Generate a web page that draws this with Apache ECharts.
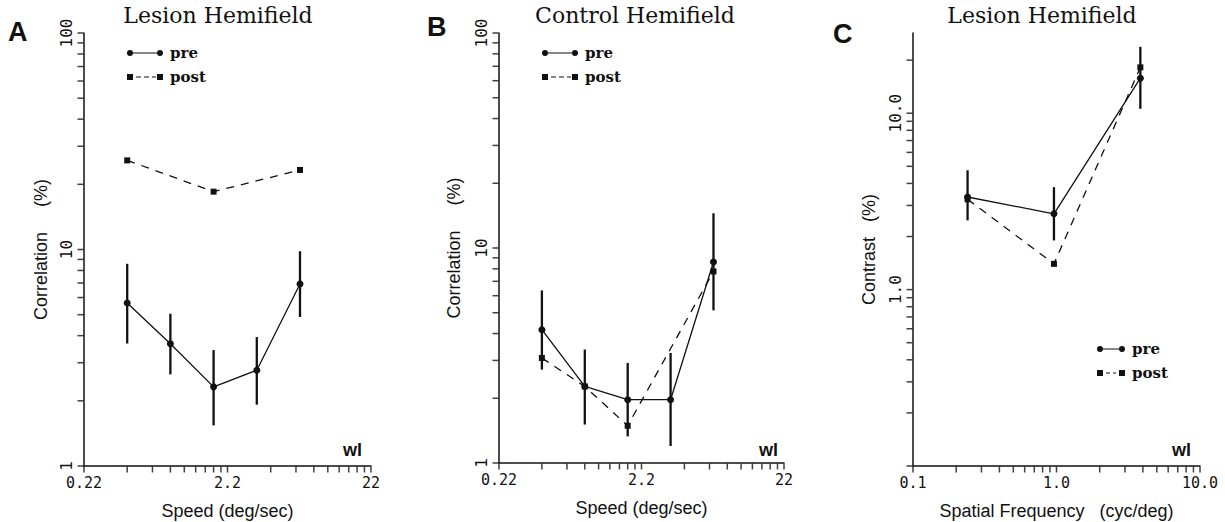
<!DOCTYPE html>
<html><head><meta charset="utf-8">
<script src="https://cdn.jsdelivr.net/npm/echarts@6/dist/echarts.min.js"></script>
<style>html,body{margin:0;padding:0;background:#fff}#c{width:1225px;height:522px}</style>
</head><body><div id="c"></div>
<script>
// ---------- data ----------
// Panels A & B: stimulus speed (deg/sec)
const speeds = [0.44, 0.88, 1.76, 3.52, 7.04];
// A: Lesion hemifield, correlation threshold (%)
const aPre   = [5.66, 3.67, 2.32, 2.77, 6.93];
const aPreLo = [3.68, 2.65, 1.54, 1.92, 4.88];
const aPreHi = [8.59, 5.05, 3.43, 3.94, 9.82];
const aPostX = [0.44, 1.76, 7.04];
const aPost  = [25.8, 18.5, 23.3];
// B: Control hemifield
const bPre   = [4.17, 2.27, 1.97, 1.97, 8.61];
const bErrLo = [2.72, 1.51, 1.33, 1.20, 5.13];
const bErrHi = [6.35, 3.37, 2.92, 3.25, 14.5];
const bPostX = [0.44, 0.88, 1.76, 7.04];
const bPost  = [3.08, 2.27, 1.49, 7.78];
// C: Lesion hemifield, contrast threshold (%) vs spatial frequency (cyc/deg)
const freqs  = [0.24, 0.96, 3.84];
const cPre   = [3.35, 2.69, 15.8];
const cPost  = [3.25, 1.40, 18.2];
const cErrLo = [2.47, 1.90, 10.6];
const cErrHi = [4.75, 3.81, 23.8];

// tick labels
const speedTickLabels = [0.22, 2.2, 22];
const freqTickLabels = [0.1, 1.0, 10.0];
const corrTickLabels = [1, 10, 100];
const contrastTickLabels = [1, 10];

// tick mark positions (log minor ticks)
function logTicks(starts, last) {
  const out = [];
  starts.forEach(s => { for (let k = 1; k <= 9; k++) out.push(+(s * k).toPrecision(6)); });
  if (last != null) out.push(last);
  return out;
}
const speedTicks = logTicks([0.22, 2.2], 22);
const corrTicks = logTicks([1, 10], 100);
const freqTicks = logTicks([0.1, 1], 10);
const contrastTicks = logTicks([0.1, 1], 10).concat([20]);

// ---------- styles ----------
const INK = '#111';
const tickFont = 'DejaVu Sans Mono';
const nameFont = 'Liberation Sans';
function xAxisCfg(grid, min, max, labels, fmt, name) {
  return {
    type: 'log', logBase: 10, gridIndex: grid, min: min, max: max,
    axisLine: { show: true, lineStyle: { color: INK, width: 1.5 } },
    axisTick: { show: false },
    axisLabel: { customValues: labels, formatter: fmt, fontFamily: tickFont, fontSize: 15, color: INK, margin: 9 },
    splitLine: { show: false },
    name: name, nameLocation: 'middle', nameGap: 36,
    nameTextStyle: { fontFamily: nameFont, fontSize: 18, color: INK }
  };
}
function yAxisCfg(grid, min, max, labels, fmt, name, gap) {
  return {
    type: 'log', logBase: 10, gridIndex: grid, min: min, max: max,
    axisLine: { show: true, lineStyle: { color: INK, width: 1.5 } },
    axisTick: { show: false },
    axisLabel: { customValues: labels, formatter: fmt, rotate: 90, fontFamily: tickFont, fontSize: 16, color: INK, margin: 10 },
    splitLine: { show: false },
    name: name, nameLocation: 'middle', nameGap: gap, nameRotate: 90,
    nameTextStyle: { fontFamily: nameFont, fontSize: 18, color: INK }
  };
}
const fmtSpeed = v => String(+(+v).toPrecision(2));
const fmtFixed1 = v => (+v).toFixed(1);
const fmtInt = v => String(Math.round(+v));
function pairs(xs, ys) { return xs.map((x, i) => [x, ys[i]]); }
function triples(xs, lo, hi) { return xs.map((x, i) => [x, lo[i], hi[i]]); }
function lineSeries(name, idx, data, dashed) {
  return {
    name: name, type: 'line', xAxisIndex: idx, yAxisIndex: idx, data: data,
    symbol: dashed ? 'rect' : 'circle', symbolSize: dashed ? 6 : 7,
    itemStyle: { color: INK },
    lineStyle: { color: INK, width: 1.3, type: dashed ? [8, 7] : 'solid' },
    z: 3
  };
}
function errSeries(idx, data) {
  return {
    name: 'err' + idx, type: 'custom', xAxisIndex: idx, yAxisIndex: idx, data: data,
    encode: { x: 0, y: [1, 2] },
    renderItem: function (params, api) {
      const x = api.value(0);
      const p1 = api.coord([x, api.value(1)]);
      const p2 = api.coord([x, api.value(2)]);
      return { type: 'line', shape: { x1: p1[0], y1: p1[1], x2: p2[0], y2: p2[1] },
               style: { stroke: INK, lineWidth: 2.3 } };
    },
    z: 2
  };
}
// axis tick marks, placed on the axes through the library scales
function tickSeries(idx, xTicks, yMin, yTicks, xMin) {
  return [
    { name: 'xt' + idx, type: 'scatter', xAxisIndex: idx, yAxisIndex: idx, silent: true, clip: false,
      data: xTicks.map(t => [t, yMin]), symbol: 'rect', symbolSize: [1.5, 6], symbolOffset: [0, 3.5],
      itemStyle: { color: INK }, z: 1 },
    { name: 'yt' + idx, type: 'scatter', xAxisIndex: idx, yAxisIndex: idx, silent: true, clip: false,
      data: yTicks.map(t => [xMin, t]), symbol: 'rect', symbolSize: [6, 1.5], symbolOffset: [-3.5, 0],
      itemStyle: { color: INK }, z: 1 }
  ];
}
const preIcon36  = 'path://M0,4a3,3 0 1,0 6,0a3,3 0 1,0 -6,0ZM6,3.4H30V4.6H6ZM30,4a3,3 0 1,0 6,0a3,3 0 1,0 -6,0Z';
const postIcon36 = 'path://M0,1H6V7H0ZM9,3.4H14V4.6H9ZM17,3.4H22V4.6H17ZM25,3.4H29V4.6H25ZM30,1H36V7H30Z';
const preIcon28  = 'path://M0,4a3,3 0 1,0 6,0a3,3 0 1,0 -6,0ZM6,3.4H22V4.6H6ZM22,4a3,3 0 1,0 6,0a3,3 0 1,0 -6,0Z';
const postIcon28 = 'path://M0,1H6V7H0ZM9,3.4H13V4.6H9ZM16,3.4H19V4.6H16ZM22,1H28V7H22Z';
function legendCfg(left, top, w, preIcon, postIcon) {
  return {
    left: left, top: top, orient: 'vertical', itemWidth: w, itemHeight: 6, itemGap: 8,
    selectedMode: false, padding: 0,
    itemStyle: { borderWidth: 0 },
    data: [{ name: 'pre', icon: preIcon }, { name: 'post', icon: postIcon }],
    textStyle: { fontFamily: 'DejaVu Serif', fontWeight: 'bold', fontSize: 15, color: INK, lineHeight: 16, padding: [0, 0, 0, 2] }
  };
}
const titleStyle = { fontFamily: 'DejaVu Serif', fontSize: 22, fontWeight: 'normal', color: INK };
const letterStyle = { fontFamily: 'Liberation Sans', fontSize: 27, fontWeight: 'bold', color: INK };
const wlStyle = { text: 'wl', font: 'bold 18px "Liberation Sans"', fill: INK };
const option = {
  animation: false,
  backgroundColor: '#fff',
  title: [
    { text: 'A', left: 8, top: 18, padding: 0, textStyle: letterStyle },
    { text: 'B', left: 427, top: 13, padding: 0, textStyle: letterStyle },
    { text: 'C', left: 833, top: 20, padding: 0, textStyle: letterStyle },
    { text: 'Lesion Hemifield', left: 218, top: 4, padding: 0, textAlign: 'center', textStyle: titleStyle },
    { text: 'Control Hemifield', left: 635, top: 4, padding: 0, textAlign: 'center', textStyle: titleStyle },
    { text: 'Lesion Hemifield', left: 1042, top: 4, padding: 0, textAlign: 'center', textStyle: titleStyle }
  ],
  legend: [
    legendCfg(127, 45, 36, preIcon36, postIcon36),
    legendCfg(542, 45, 36, preIcon36, postIcon36),
    legendCfg(1097, 341, 28, preIcon28, postIcon28)
  ],
  grid: [
    { left: 84, top: 33, width: 287, height: 433, outerBoundsMode: 'none', containLabel: false },
    { left: 499, top: 33, width: 285, height: 430, outerBoundsMode: 'none', containLabel: false },
    { left: 913, top: 33, width: 287, height: 433, outerBoundsMode: 'none', containLabel: false }
  ],
  xAxis: [
    xAxisCfg(0, 0.22, 22, speedTickLabels, fmtSpeed, 'Speed (deg/sec)'),
    xAxisCfg(1, 0.22, 22, speedTickLabels, fmtSpeed, 'Speed (deg/sec)'),
    xAxisCfg(2, 0.1, 10, freqTickLabels, fmtFixed1, 'Spatial Frequency   (cyc/deg)')
  ],
  yAxis: [
    yAxisCfg(0, 1, 100, corrTickLabels, fmtInt, 'Correlation     (%)', 34),
    yAxisCfg(1, 1, 100, corrTickLabels, fmtInt, 'Correlation     (%)', 36),
    yAxisCfg(2, 0.1, 28.5, contrastTickLabels, fmtFixed1, 'Contrast   (%)', 35)
  ],
  graphic: [
    { type: 'text', left: 343, top: 441, style: wlStyle },
    { type: 'text', left: 759, top: 441, style: wlStyle },
    { type: 'text', left: 1172, top: 441, style: wlStyle }
  ],
  series: [].concat(
    tickSeries(0, speedTicks, 1, corrTicks, 0.22),
    tickSeries(1, speedTicks, 1, corrTicks, 0.22),
    tickSeries(2, freqTicks, 0.1, contrastTicks, 0.1),
    [
      errSeries(0, triples(speeds, aPreLo, aPreHi)),
      lineSeries('pre', 0, pairs(speeds, aPre), false),
      lineSeries('post', 0, pairs(aPostX, aPost), true),
      errSeries(1, triples(speeds, bErrLo, bErrHi)),
      lineSeries('pre', 1, pairs(speeds, bPre), false),
      lineSeries('post', 1, pairs(bPostX, bPost), true),
      errSeries(2, triples(freqs, cErrLo, cErrHi)),
      lineSeries('pre', 2, pairs(freqs, cPre), false),
      lineSeries('post', 2, pairs(freqs, cPost), true)
    ])
};
const chart = echarts.init(document.getElementById('c'), null, { renderer: 'svg' });
chart.setOption(option);
</script>
</body></html>
